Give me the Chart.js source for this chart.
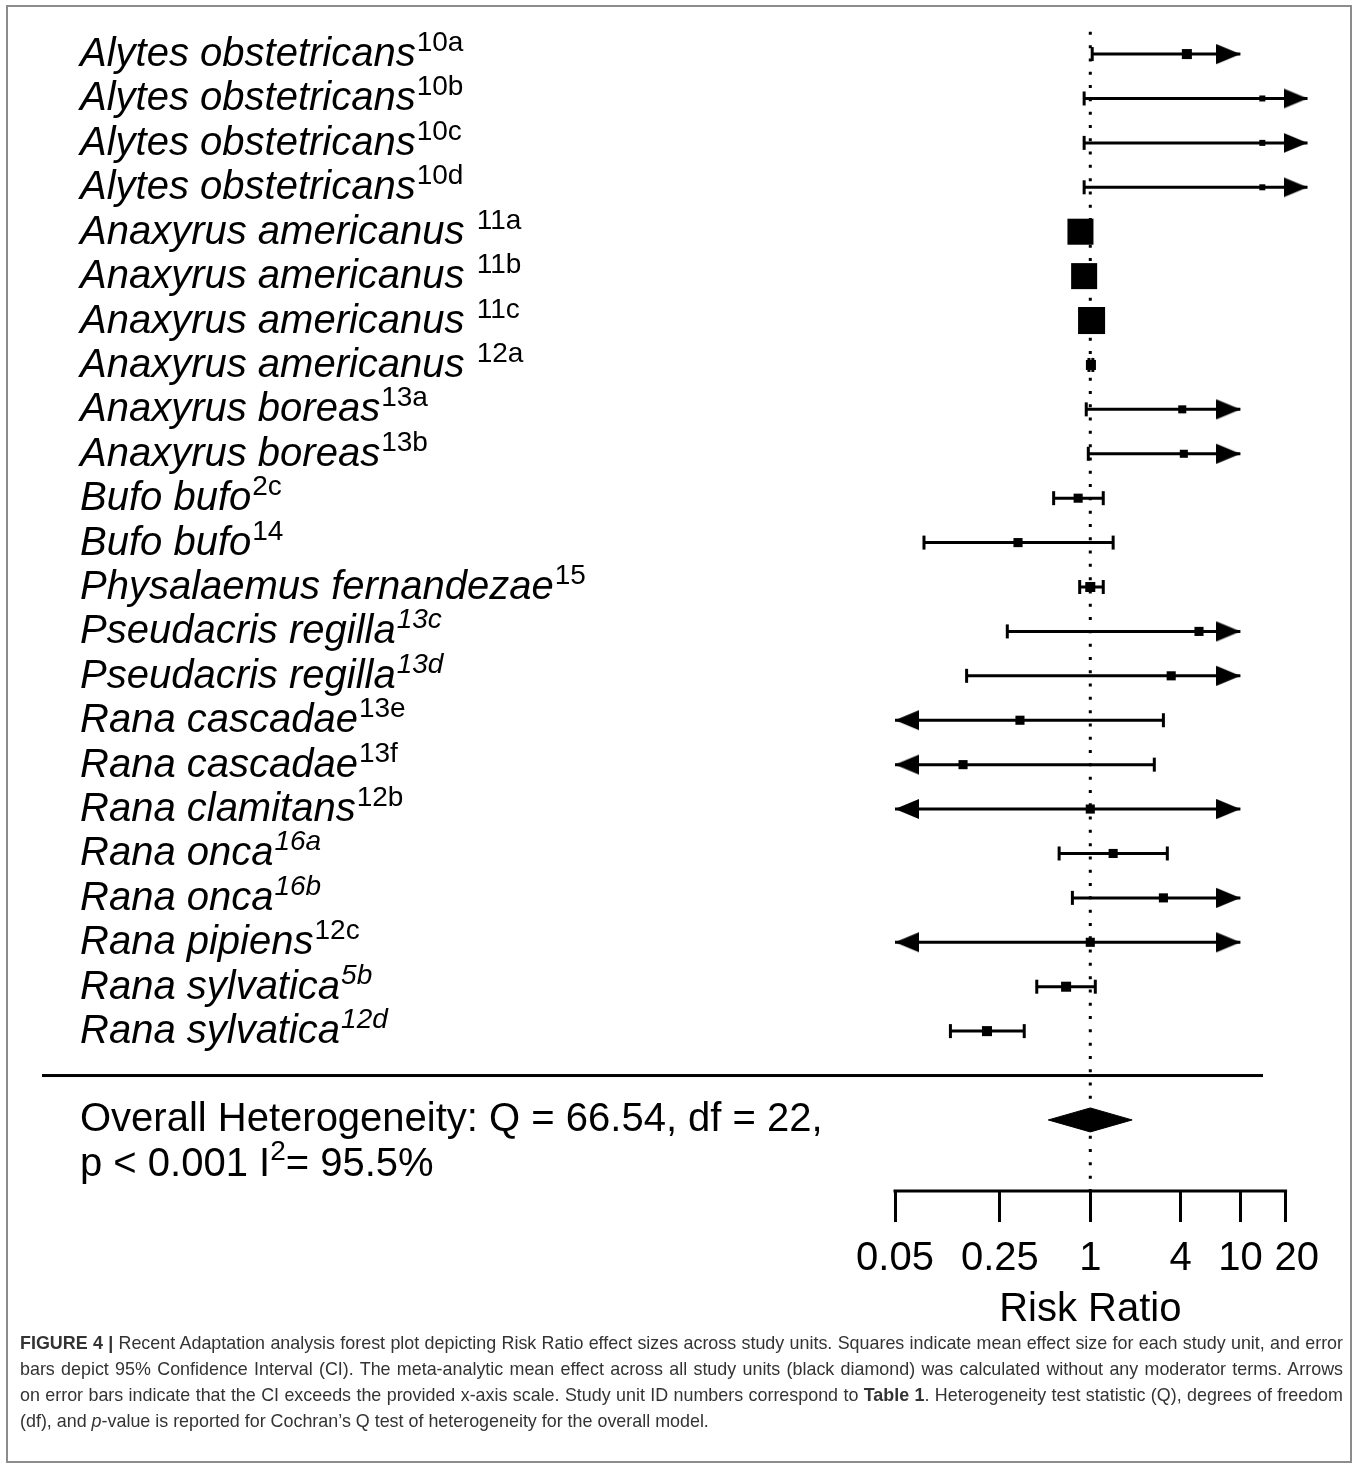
<!DOCTYPE html>
<html>
<head>
<meta charset="utf-8">
<script src="https://cdn.jsdelivr.net/npm/chart.js@4.4.1/dist/chart.umd.min.js"></script>
<style>
  body { margin: 0; background: #fff; width: 1357px; height: 1467px; position: relative; overflow: hidden; }
  #frame { position: absolute; left: 6px; top: 5px; width: 1346px; height: 1458px; border: 2px solid #8c8c8c; box-sizing: border-box; }
  #plot { position: absolute; left: 0; top: 0; }
  #caption { position: absolute; left: 20px; top: 1330px; width: 1323px; font-family: "Liberation Sans", Arial, sans-serif; font-size: 17.9px; line-height: 26px; color: #333; }
  #caption div { text-align: justify; text-align-last: justify; white-space: nowrap; }
  #caption div.last { text-align-last: left; }
</style>
</head>
<body>
<div id="frame"></div>
<canvas id="plot" width="1357" height="1340"></canvas>
<div id="caption">
  <div><b>FIGURE 4 |</b> Recent Adaptation analysis forest plot depicting Risk Ratio effect sizes across study units. Squares indicate mean effect size for each study unit, and error</div>
  <div>bars depict 95% Confidence Interval (CI). The meta-analytic mean effect across all study units (black diamond) was calculated without any moderator terms. Arrows</div>
  <div>on error bars indicate that the CI exceeds the provided x-axis scale. Study unit ID numbers correspond to <b>Table 1</b>. Heterogeneity test statistic (Q), degrees of freedom</div>
  <div class="last">(df), and <i>p</i>-value is reported for Cochran’s Q test of heterogeneity for the overall model.</div>
</div>
<script>
// study units, top to bottom
const species = [
  'Alytes obstetricans', 'Alytes obstetricans', 'Alytes obstetricans', 'Alytes obstetricans',
  'Anaxyrus americanus ', 'Anaxyrus americanus ', 'Anaxyrus americanus ', 'Anaxyrus americanus ',
  'Anaxyrus boreas', 'Anaxyrus boreas', 'Bufo bufo', 'Bufo bufo',
  'Physalaemus fernandezae', 'Pseudacris regilla', 'Pseudacris regilla',
  'Rana cascadae', 'Rana cascadae', 'Rana clamitans', 'Rana onca', 'Rana onca',
  'Rana pipiens', 'Rana sylvatica', 'Rana sylvatica'
];
const refs = ['10a', '10b', '10c', '10d', '11a', '11b', '11c', '12a', '13a', '13b', '2c', '14',
  '15', '13c', '13d', '13e', '13f', '12b', '16a', '16b', '12c', '5b', '12d'];
const refItalic = [0, 0, 0, 0, 0, 0, 0, 0, 0, 0, 0, 0, 0, 1, 1, 0, 0, 0, 1, 1, 0, 1, 1];

// risk ratios (CI ends at arrows are where the arrow stops)
const estimate = [4.4, 14, 14, 14, 0.86, 0.91, 1.02, 1.01, 4.1, 4.2, 0.83, 0.33,
  1.0, 5.3, 3.46, 0.34, 0.142, 1.0, 1.42, 3.07, 1.0, 0.69, 0.205];
const lower = [1.03, 0.91, 0.91, 0.91, 0.82, 0.87, 0.97, 0.98, 0.94, 0.97, 0.57, 0.078,
  0.85, 0.28, 0.15, 0.05, 0.05, 0.05, 0.62, 0.76, 0.05, 0.44, 0.117];
const upper = [10, 28, 28, 28, 0.90, 0.96, 1.07, 1.04, 10, 10, 1.22, 1.42,
  1.22, 10, 10, 3.07, 2.67, 10, 3.26, 10, 10, 1.08, 0.363];
const arrowLo = [0, 0, 0, 0, 0, 0, 0, 0, 0, 0, 0, 0, 0, 0, 0, 1, 1, 1, 0, 0, 1, 0, 0];
const arrowHi = [1, 1, 1, 1, 0, 0, 0, 0, 1, 1, 0, 0, 0, 1, 1, 0, 0, 1, 0, 1, 1, 0, 0];
const weights = [2.8, 1.0, 1.0, 1.0, 18.8, 18.8, 20.3, 2.8, 1.8, 1.8, 2.3, 2.3,
  2.8, 2.3, 2.3, 2.3, 2.3, 2.3, 2.3, 2.3, 2.3, 2.8, 2.8];

// overall model
const overall = { est: 1.0, lo: 0.525, hi: 1.9 };
const tickValues = [0.05, 0.25, 1, 4, 10, 20];
const tickLabels = ['0.05', '0.25', '1', '4', '10', '  20'];

const FONT = '"Liberation Sans", Arial, Helvetica, sans-serif';
const overallRow = species.length + 1;

// build mark data
const ciPts = [];
const capPts = [];
const arrowPts = [];
const arrowRot = [];
species.forEach((s, i) => {
  ciPts.push({ x: lower[i], y: i }, { x: upper[i], y: i }, { x: null, y: null });
  if (arrowLo[i]) { arrowPts.push({ x: lower[i], y: i }); arrowRot.push(180); }
  else capPts.push({ x: lower[i], y: i });
  if (arrowHi[i]) { arrowPts.push({ x: upper[i], y: i }); arrowRot.push(0); }
  else capPts.push({ x: upper[i], y: i });
});
const squarePts = estimate.map((v, i) => ({ x: v, y: i }));
const squareRadius = weights.map(w => 6 * Math.sqrt(w) / (2 * Math.SQRT1_2));

// arrow head with its tip in the centre of the image
const arrowImg = document.createElement('canvas');
arrowImg.width = 48; arrowImg.height = 22;
(function () {
  const c = arrowImg.getContext('2d');
  c.fillStyle = '#000';
  c.beginPath();
  c.moveTo(24, 11); c.lineTo(0, 1); c.lineTo(0, 21); c.closePath();
  c.fill();
})();

const hDiam = 0.27;
const diamond = [
  { x: overall.lo, y: overallRow }, { x: overall.est, y: overallRow - hDiam },
  { x: overall.hi, y: overallRow }, { x: overall.est, y: overallRow + hDiam },
  { x: overall.lo, y: overallRow }
];

const labelsPlugin = {
  id: 'labels',
  afterDraw(chart) {
    const ctx = chart.ctx;
    const y = chart.scales.y;
    const x = chart.scales.x;
    ctx.save();
    ctx.fillStyle = '#000';
    ctx.textBaseline = 'alphabetic';
    species.forEach((s, i) => {
      const py = y.getPixelForValue(i) + 12;
      ctx.font = 'italic 40px ' + FONT;
      ctx.fillText(s, 80, py);
      const w = ctx.measureText(s).width;
      ctx.font = (refItalic[i] ? 'italic ' : '') + '28px ' + FONT;
      ctx.fillText(refs[i], 80 + w + 1, py - 15);
    });
    // separator under the studies
    const sepY = y.getPixelForValue(species.length);
    ctx.fillRect(42, sepY - 1.5, 1221, 3);
    // axis line from first to last tick
    const x0 = x.getPixelForValue(tickValues[0]);
    const x1 = x.getPixelForValue(tickValues[tickValues.length - 1]);
    ctx.fillRect(x0 - 1.5, chart.chartArea.bottom - 1.5, x1 - x0 + 3, 3);
    // heterogeneity text
    ctx.font = '40px ' + FONT;
    ctx.fillText('Overall Heterogeneity: Q = 66.54, df = 22,', 80, 1131);
    let tx = 80;
    ctx.fillText('p < 0.001 I', tx, 1176);
    tx += ctx.measureText('p < 0.001 I').width;
    ctx.font = '28px ' + FONT;
    ctx.fillText('2', tx, 1160);
    tx += ctx.measureText('2').width;
    ctx.font = '40px ' + FONT;
    ctx.fillText('= 95.5%', tx, 1176);
    // axis title
    ctx.textAlign = 'center';
    ctx.fillText('Risk Ratio', x.getPixelForValue(1), 1321);
    ctx.restore();
  }
};

new Chart(document.getElementById('plot'), {
  type: 'scatter',
  data: {
    datasets: [
      {
        label: 'estimate', data: squarePts, pointStyle: 'rect',
        pointRadius: squareRadius, backgroundColor: '#000', borderWidth: 0, clip: false
      },
      {
        label: 'overall', data: diamond, showLine: true, fill: 'shape',
        backgroundColor: '#000', borderColor: '#000', borderWidth: 1, pointRadius: 0, clip: false
      },
      {
        label: 'arrows', data: arrowPts, pointStyle: arrowImg,
        rotation: c => arrowRot[c.dataIndex], pointRadius: 11, clip: false
      },
      {
        label: 'caps', data: capPts, pointStyle: 'line', rotation: 90,
        pointRadius: 7, borderColor: '#000', borderWidth: 3, clip: false
      },
      {
        label: 'ci', data: ciPts, showLine: true, spanGaps: false,
        borderColor: '#000', borderWidth: 3, pointRadius: 0, clip: false
      },
      {
        label: 'null', data: [{ x: 1, y: -0.5 }, { x: 1, y: 25.6 }], showLine: true,
        borderColor: '#000', borderWidth: 3, borderDash: [3, 10.3], pointRadius: 0, clip: false
      }
    ]
  },
  options: {
    responsive: false,
    animation: false,
    devicePixelRatio: 1,
    events: [],
    layout: { padding: { left: 895, right: 45, top: 8.5, bottom: 44 } },
    plugins: { legend: { display: false }, tooltip: { enabled: false } },
    scales: {
      x: {
        type: 'logarithmic',
        min: 0.05,
        max: 30,
        afterBuildTicks: axis => { axis.ticks = tickValues.map(v => ({ value: v })); },
        ticks: {
          autoSkip: false,
          maxRotation: 0,
          padding: 13,
          color: '#000',
          font: { family: FONT, size: 40 },
          callback: (v) => tickLabels[tickValues.indexOf(v)] ?? ''
        },
        grid: { drawOnChartArea: false, tickLength: 31, tickWidth: 3, tickColor: '#000' },
        border: { display: false }
      },
      y: {
        type: 'linear',
        reverse: true,
        bounds: 'data',
        min: -0.787,
        max: 25.6,
        display: false
      }
    }
  },
  plugins: [labelsPlugin]
});
</script>
</body>
</html>
